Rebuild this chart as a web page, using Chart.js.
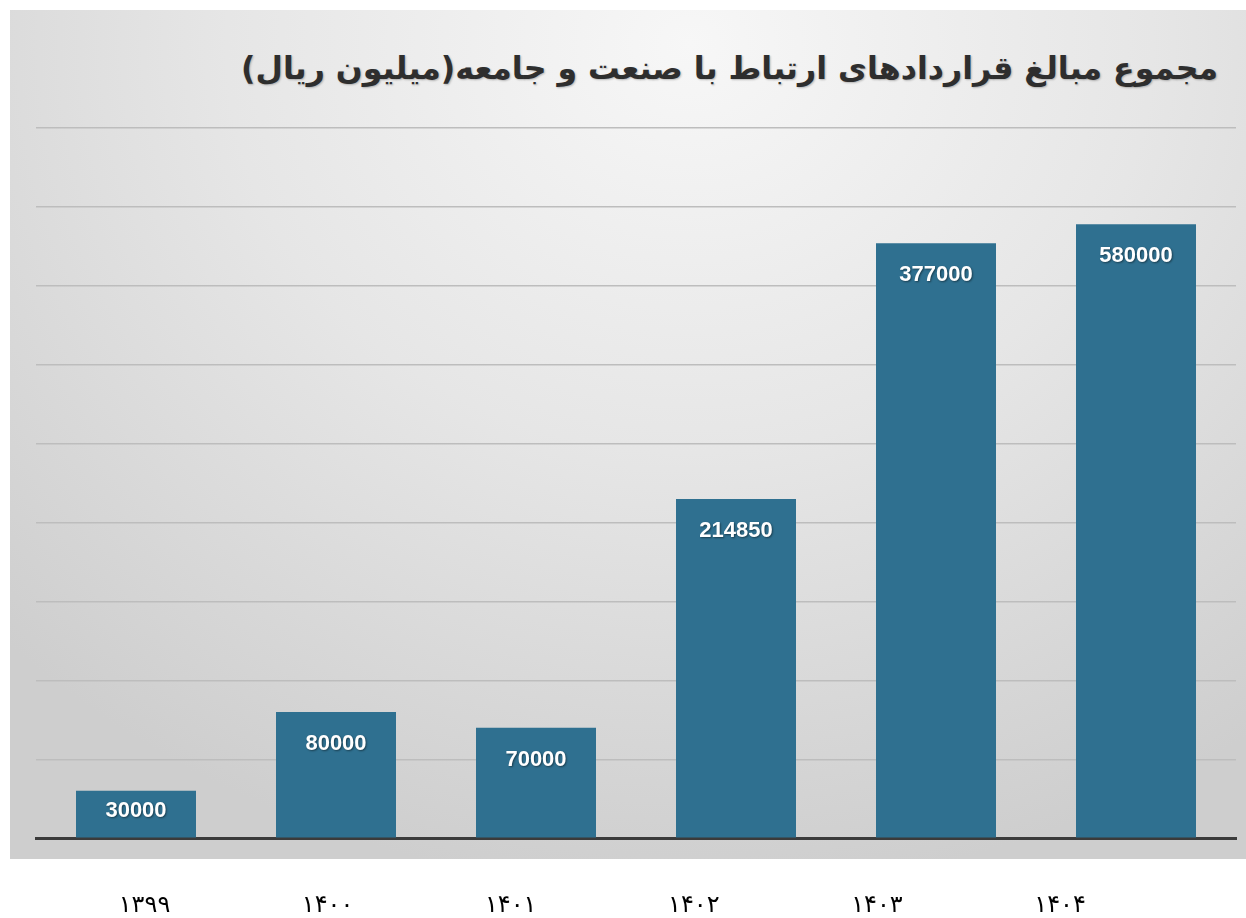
<!DOCTYPE html>
<html lang="fa">
<head>
<meta charset="utf-8">
<title>مجموع مبالغ قراردادهای ارتباط با صنعت و جامعه</title>
<script src="https://cdn.jsdelivr.net/npm/chart.js@4/dist/chart.umd.min.js"></script>
<style>
    html, body {
        margin: 0;
        padding: 0;
        background: #ffffff;
        overflow: hidden;
    }
    #wrap {
        position: relative;
        width: 1246px;
        height: 918px;
    }
    #panel {
        position: absolute;
        left: 10px;
        top: 10px;
        width: 1236px;
        height: 849px;
        background: radial-gradient(ellipse 78% 100% at 55% 4%, #f7f7f7 0%, #e6e6e6 48%, #cecece 100%);
    }
    #title {
        position: absolute;
        right: 28px;
        top: 50px;
        margin: 0;
        direction: rtl;
        font-family: "DejaVu Sans", sans-serif;
        font-weight: bold;
        font-size: 31.6px;
        color: #2e2e2e;
        white-space: nowrap;
        text-shadow: 1px 1px 2px rgba(0, 0, 0, 0.25);
    }
    canvas {
        position: absolute;
        left: 0;
        top: 0;
    }
</style>
</head>
<body>
<div id="wrap">
    <div id="panel"></div>
    <h1 id="title">مجموع مبالغ قراردادهای ارتباط با صنعت و جامعه(میلیون ریال)</h1>
    <canvas id="chart" width="1246" height="918"></canvas>
</div>
<script>
// years (shown in Persian digits under the panel)
const years = ["۱۳۹۹", "۱۴۰۰", "۱۴۰۱", "۱۴۰۲", "۱۴۰۳", "۱۴۰۴"];
// bar heights as drawn in the picture (last bar is drawn shorter than its label)
const barValues = [30000, 80000, 70000, 214850, 377000, 389000];
// text written on the bars
const barLabels = ["30000", "80000", "70000", "214850", "377000", "580000"];
// y grid
const yMax = 450000;
const yStep = 50000;

const barColor = "#2f7090";

// labels on top of each bar, inside
const barTextPlugin = {
    id: "barText",
    afterDatasetsDraw(chart) {
        const ctx = chart.ctx;
        const meta = chart.getDatasetMeta(0);
        ctx.save();
        ctx.font = "bold 22px 'Liberation Sans', Arial, sans-serif";
        ctx.fillStyle = "#ffffff";
        ctx.textAlign = "center";
        ctx.textBaseline = "middle";
        ctx.shadowColor = "rgba(0,0,0,0.45)";
        ctx.shadowBlur = 2;
        ctx.shadowOffsetX = 1;
        ctx.shadowOffsetY = 1;
        meta.data.forEach((bar, i) => {
            const h = bar.base - bar.y;
            const off = Math.min(32, h / 2 - 3);
            ctx.fillText(barLabels[i], bar.x, bar.y + off);
        });
        ctx.restore();
    },
};

new Chart(document.getElementById("chart"), {
    type: "bar",
    data: {
        labels: years,
        datasets: [{
            data: barValues,
            backgroundColor: barColor,
            borderWidth: 0,
            barPercentage: 0.6,
            categoryPercentage: 1.0,
        }],
    },
    options: {
        responsive: false,
        animation: false,
        layout: {
            // negative bottom: the year row sits below the grey panel
            padding: { left: 36, right: 10, top: 128, bottom: -55 },
        },
        plugins: {
            legend: { display: false },
            tooltip: { enabled: false },
        },
        scales: {
            x: {
                grid: { display: false, drawTicks: false },
                border: { display: true, color: "#3b3b3b", width: 3 },
                ticks: { display: false },
            },
            // the year row under the panel does not sit under the bars exactly
            x2: {
                type: "linear",
                position: "bottom",
                offset: false,
                weight: 1,
                min: -0.5926,
                max: 5.961,
                grid: { display: false, drawTicks: false, offset: false },
                border: { display: false },
                afterBuildTicks: (axis) => {
                    axis.ticks = years.map((_, i) => ({ value: i }));
                },
                ticks: {
                    autoSkip: false,
                    maxRotation: 0,
                    padding: 53,
                    color: "#000000",
                    font: { family: "'DejaVu Sans', sans-serif", size: 24 },
                    callback: (v) => years[v],
                },
            },
            y: {
                min: 0,
                max: yMax,
                grid: { color: "#bdbdbd", lineWidth: 1.5, drawTicks: false },
                border: { display: false },
                ticks: { display: false, stepSize: yStep },
            },
        },
    },
    plugins: [barTextPlugin],
});
</script>
</body>
</html>
